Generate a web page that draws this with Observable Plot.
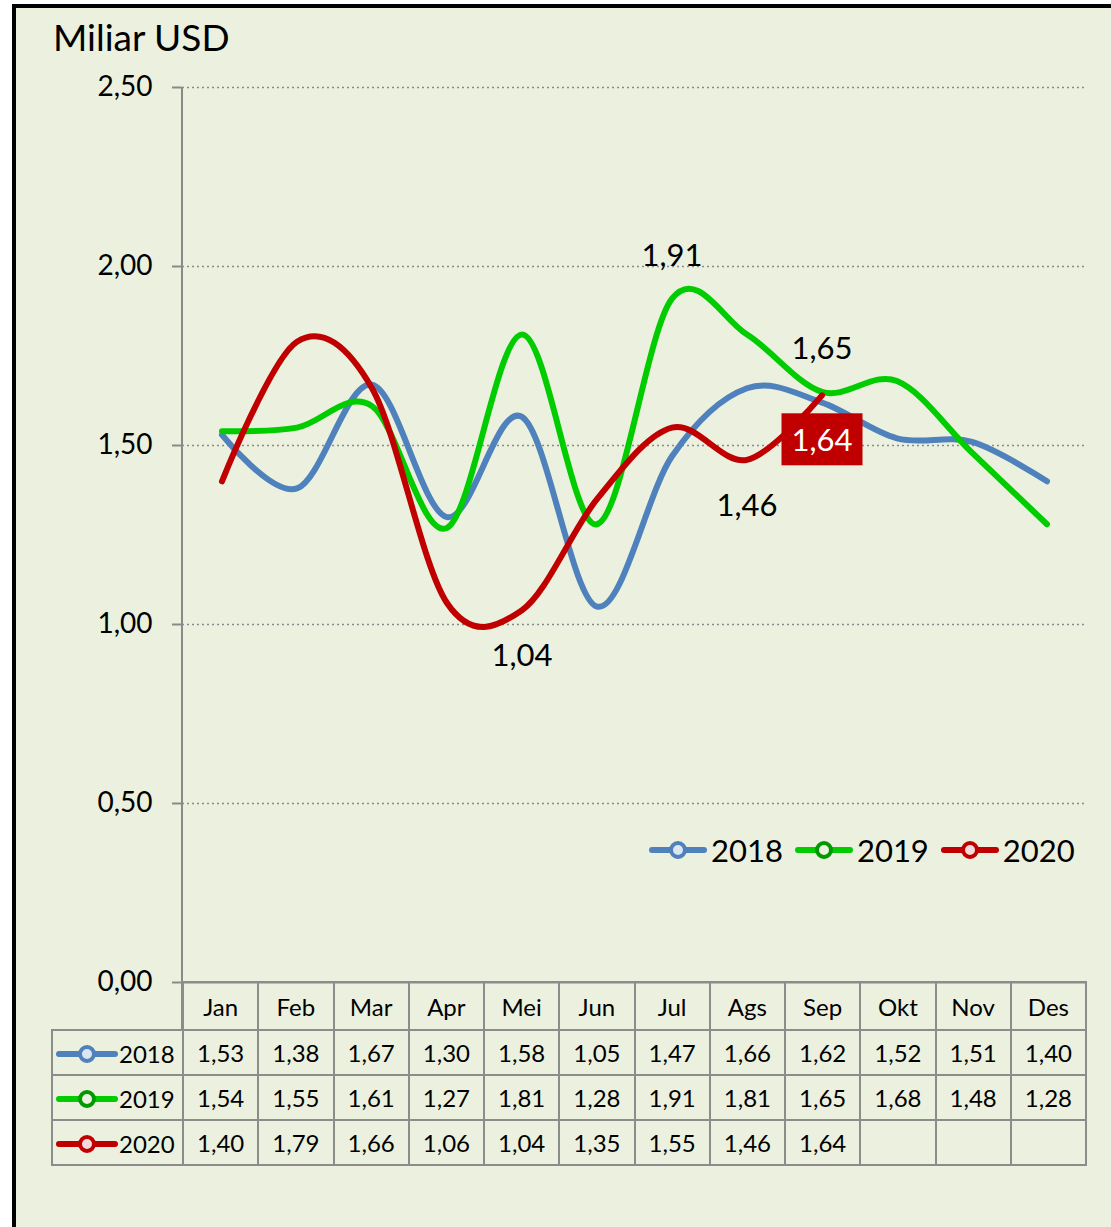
<!DOCTYPE html>
<html>
<head>
<meta charset="utf-8">
<script src="https://cdn.jsdelivr.net/npm/d3@7"></script>
<script src="https://cdn.jsdelivr.net/npm/@observablehq/plot@0.6"></script>
<style>
  body { margin: 0; background: #fff; }
  #page { position: relative; width: 1111px; height: 1227px; overflow: hidden; font-family: Lato, sans-serif; }
  #bg { position: absolute; left: 12px; top: 4px; width: 1099px; height: 1223px; background: #EBF1DE;
        border-left: 4px solid #000; border-top: 4px solid #000; box-sizing: border-box; }
  #title { position: absolute; left: 53px; top: 18px; font-size: 37px; line-height: 37px; color: #000; }
  #chart { position: absolute; left: 0; top: 0; }
  #axisline { position: absolute; width: 2px; background: #8a8a8a; }
  #legend { position: absolute; left: 648px; top: 834px; display: flex; font-size: 31px; line-height: 32px; }
  #legend .item { display: flex; align-items: center; margin-right: 11px; }
  #legend svg { margin-right: 3px; }
  table { position: absolute; border-collapse: collapse; table-layout: fixed; font-size: 24px; color: #000; }
  td { border: 2px solid #8c8c8c; text-align: center; padding: 0; white-space: nowrap; }
  td.corner { border-top: none; border-left: none; }
  td.name { text-align: left; padding-left: 2px; }
  td.name svg { vertical-align: middle; margin-right: 0px; }
  td.name span { vertical-align: middle; }
</style>
</head>
<body>
<div id="page">
  <div id="bg"></div>
  <div id="title">Miliar USD</div>
  <div id="chart"></div>
  <div id="axisline"></div>
  <div id="legend"></div>
</div>
<script>
// ---- data ----
const months = ["Jan","Feb","Mar","Apr","Mei","Jun","Jul","Ags","Sep","Okt","Nov","Des"];
const years = ["2018","2019","2020"];
const v2018 = [1.53,1.38,1.67,1.30,1.58,1.05,1.47,1.66,1.62,1.52,1.51,1.40];
const v2019 = [1.54,1.55,1.61,1.27,1.81,1.28,1.91,1.81,1.65,1.68,1.48,1.28];
const v2020 = [1.40,1.79,1.66,1.06,1.04,1.35,1.55,1.46,1.64];
const lineColors = ["#4F81BD","#00CC00","#C00000"];
const markerFills = ["#DCE6F2","#EBF1DE","#F2DCDB"];
const markerStrokes = ["#4F81BD","#009A00","#C00000"];
const yTicks = [0,0.5,1,1.5,2,2.5];
// data labels
const aboveLabelYears = ["2019","2019"];
const aboveLabelMonths = ["Jul","Sep"];
const belowLabelYears = ["2020","2020"];
const belowLabelMonths = ["Mei","Ags"];
const highlightYears = ["2020"];
const highlightMonths = ["Sep"];

// ---- build table ----
const seriesValues = [v2018, v2019, v2020];
const rows = [];
years.forEach((yr, i) => seriesValues[i].forEach((v, j) => rows.push({year: yr, month: months[j], value: v})));
const find = (yr, m) => rows.find(r => r.year === yr && r.month === m);
const pick = (ys, ms) => ys.map((y, i) => find(y, ms[i]));

const fmt = d => d.toFixed(2).replace(".", ",");

const W = 1111, H = 1030, mT = 87, mB = 48, mL = 182, mR = 26;

const plot = Plot.plot({
  width: W, height: H,
  marginTop: mT, marginBottom: mB, marginLeft: mL, marginRight: mR,
  style: {background: "transparent", fontFamily: "Lato, sans-serif", overflow: "visible"},
  x: {type: "band", domain: months, padding: 0, axis: null},
  y: {domain: [0, 2.5], axis: null},
  color: {domain: years, range: lineColors},
  marks: [
    Plot.ruleY(yTicks.filter(d => d > 0), {stroke: "#8a8a8a", strokeDasharray: "2,3", strokeWidth: 1.6}),
    Plot.ruleY([0], {stroke: "#8c8c8c", strokeWidth: 2}),
    Plot.axisY({ticks: yTicks, tickSize: 10, tickPadding: 20, tickFormat: fmt, fontSize: 28,
                stroke: "#8a8a8a", strokeWidth: 2, fill: "#000", label: null}),
    Plot.line(rows, {x: "month", y: "value", z: "year", stroke: "year", curve: "cardinal",
                     strokeWidth: 6, strokeLinecap: "round", strokeLinejoin: "round"}),
    Plot.text(pick(aboveLabelYears, aboveLabelMonths), {x: "month", y: "value", text: d => fmt(d.value),
                     dy: -43, fontSize: 31, fill: "#000"}),
    Plot.text(pick(belowLabelYears, belowLabelMonths), {x: "month", y: "value", text: d => fmt(d.value),
                     dy: 46, fontSize: 31, fill: "#000"}),
    Plot.text(pick(highlightYears, highlightMonths), {x: "month", y: "value", text: d => fmt(d.value),
                     dy: 46, fontSize: 31, fill: "#fff"})
  ]
});
document.getElementById("chart").appendChild(plot);

// red box behind highlighted label (last text mark)
const textGroups = plot.querySelectorAll('g[aria-label="text"]');
const hg = textGroups[textGroups.length - 1];
if (hg) {
  hg.querySelectorAll("text").forEach(t => {
    const bb = t.getBBox();
    const r = document.createElementNS("http://www.w3.org/2000/svg", "rect");
    r.setAttribute("x", bb.x - 10);
    r.setAttribute("y", bb.y - 7);
    r.setAttribute("width", bb.width + 20);
    r.setAttribute("height", bb.height + 14);
    r.setAttribute("fill", "#C00000");
    if (t.getAttribute("transform")) r.setAttribute("transform", t.getAttribute("transform"));
    hg.insertBefore(r, t);
  });
}

const ys = plot.scale("y");
const bw = (W - mL - mR) / months.length;
const y0 = ys.apply(0), yTop = ys.apply(2.5);
const headerH = 48, rowH = 45, tableLeft = 51;

// vertical axis line (down through table header)
const al = document.getElementById("axisline");
al.style.left = (mL - 1) + "px";
al.style.top = yTop + "px";
al.style.height = (y0 - yTop + headerH) + "px";

function swatch(i, w) {
  const svg = d3.create("svg").attr("width", w).attr("height", 22);
  svg.append("line").attr("x1", 4).attr("x2", w - 4).attr("y1", 11).attr("y2", 11)
    .attr("stroke", lineColors[i]).attr("stroke-width", 6).attr("stroke-linecap", "round");
  svg.append("circle").attr("cx", w / 2).attr("cy", 11).attr("r", 7)
    .attr("fill", markerFills[i]).attr("stroke", markerStrokes[i]).attr("stroke-width", 4);
  return svg.node();
}

// legend
const leg = d3.select("#legend");
years.forEach((yr, i) => {
  const it = leg.append("div").attr("class", "item");
  it.node().appendChild(swatch(i, 60));
  it.append("span").text(yr);
});

// data table
const table = d3.select("#page").append("table")
  .style("left", tableLeft + "px").style("top", (y0 - 1) + "px");
const cg = table.append("colgroup");
cg.append("col").style("width", (mL - tableLeft) + "px");
months.forEach(() => cg.append("col").style("width", bw + "px"));
const hr = table.append("tr").style("height", headerH + "px");
hr.append("td").attr("class", "corner");
months.forEach(m => hr.append("td").text(m));
years.forEach((yr, i) => {
  const tr = table.append("tr").style("height", rowH + "px");
  const nc = tr.append("td").attr("class", "name");
  nc.node().appendChild(swatch(i, 64));
  nc.append("span").text(yr);
  months.forEach((m, j) => {
    const v = seriesValues[i][j];
    tr.append("td").text(v === undefined ? "" : fmt(v));
  });
});
</script>
</body>
</html>
